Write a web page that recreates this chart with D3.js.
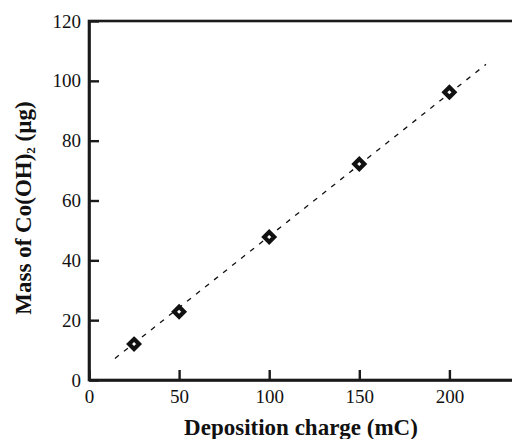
<!DOCTYPE html>
<html>
<head>
<meta charset="utf-8">
<script src="https://cdn.jsdelivr.net/npm/d3@7"></script>
<style>
  body { margin: 0; background: #fff; }
  svg { display: block; }
  text { font-family: "Liberation Serif", "Times New Roman", serif; fill: #111; }
</style>
</head>
<body>
<div id="container"></div>
<script>
// data
const charge = [25, 50, 100, 150, 200]        // mC
const mass = [12.0, 22.8, 47.8, 72.2, 96.2]    // ug
const fitCharge = [14.4, 220.3]                // dashed fit line ends
const fitMass = [7.2, 105.5]
const xTicks = [0, 50, 100, 150, 200]
const yTicks = [0, 20, 40, 60, 80, 100, 120]

const W = 512, H = 439
const margin = {top: 21, left: 89, bottom: 59}

const svg = d3.select("#container")
  .append("svg")
    .attr("width", W)
    .attr("height", H)

// x runs to 250, past the right edge of the picture
const x = d3.scaleLinear().domain([0, 250]).range([margin.left, margin.left + 450.5])
const y = d3.scaleLinear().domain([0, 120]).range([H - margin.bottom, margin.top])

const axisColor = "#1a1a1a"

// frame (right side falls off the canvas)
svg.append("rect")
  .attr("x", x(0))
  .attr("y", y(120))
  .attr("width", x(250) - x(0))
  .attr("height", y(0) - y(120))
  .attr("fill", "none")
  .attr("stroke", axisColor)
  .attr("stroke-width", 2.6)

const xAxis = svg.append("g")
  .attr("transform", "translate(0," + y(0) + ")")
  .call(d3.axisBottom(x).tickValues(xTicks).tickSize(-10).tickSizeOuter(0).tickPadding(9.5))
const yAxis = svg.append("g")
  .attr("transform", "translate(" + x(0) + ",0)")
  .call(d3.axisLeft(y).tickValues(yTicks).tickSize(-10).tickSizeOuter(0).tickPadding(8))

;[xAxis, yAxis].forEach(g => {
  g.select(".domain").attr("stroke", axisColor).attr("stroke-width", 2.6)
  g.selectAll(".tick line").attr("stroke", axisColor).attr("stroke-width", 2.4)
  g.selectAll(".tick text")
    .style("font-family", '"Liberation Serif", "Times New Roman", serif')
    .style("font-size", "19px")
    .attr("fill", "#111")
})

// dashed fit
svg.append("path")
  .datum(d3.zip(fitCharge, fitMass))
  .attr("fill", "none")
  .attr("stroke", "#111")
  .attr("stroke-width", 1.3)
  .attr("stroke-dasharray", "5,6.5")
  .attr("d", d3.line().x(d => x(d[0])).y(d => y(d[1])))

// open diamonds
const h = 5
svg.selectAll("path.pt")
  .data(d3.zip(charge, mass))
  .enter()
  .append("path")
    .attr("class", "pt")
    .attr("d", d => {
      const cx = x(d[0]), cy = y(d[1])
      return `M${cx},${cy - h}L${cx + h},${cy}L${cx},${cy + h}L${cx - h},${cy}Z`
    })
    .attr("fill", "#fff")
    .attr("stroke", "#111")
    .attr("stroke-width", 4.2)
    .attr("stroke-linejoin", "miter")

// axis titles
svg.append("text")
  .attr("text-anchor", "middle")
  .style("font-size", "23px")
  .style("font-weight", "bold")
  .attr("x", 301)
  .attr("y", 435)
  .text("Deposition charge (mC)")

const yt = svg.append("text")
  .attr("text-anchor", "middle")
  .style("font-size", "23px")
  .style("font-weight", "bold")
  .attr("transform", "translate(30.5,208) rotate(-90)")
yt.append("tspan").text("Mass of Co(OH)")
yt.append("tspan").style("font-size", "13px").attr("dy", 4).text("2")
yt.append("tspan").attr("dy", -4).text(" (µg)")
</script>
</body>
</html>
